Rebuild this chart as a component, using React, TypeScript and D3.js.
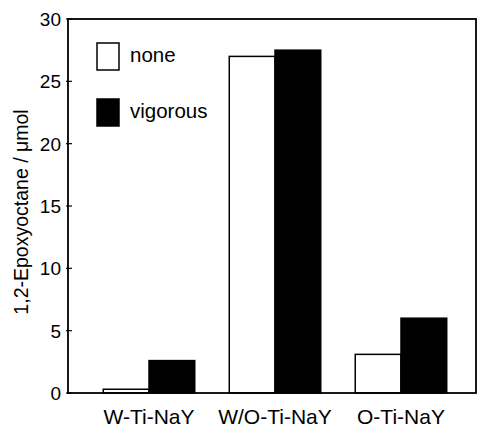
import * as d3 from 'd3'

const W = 477
const H = 425
const LEFT = 68
const RIGHT = 476
const TOP = 19
const BOTTOM = 393

const categories = ['W-Ti-NaY', 'W/O-Ti-NaY', 'O-Ti-NaY']
const series = ['none', 'vigorous']
const noneValues = [0.3, 27.0, 3.1]
const vigorousValues = [2.6, 27.5, 6.0]
const yTicks = [0, 5, 10, 15, 20, 25, 30]

const FONT = 'Liberation Sans, Arial, Helvetica, sans-serif'

const y = d3.scaleLinear().domain([0, 30]).range([BOTTOM, TOP])
const x = d3.scaleBand<string>().domain(categories).range([LEFT, 482]).paddingInner(0.274).paddingOuter(0.28)
const xs = d3.scaleBand<string>().domain(series).range([0, x.bandwidth()])

const fills: Record<string, string> = { none: '#fff', vigorous: '#000' }

export default function App() {
  const rows = categories.map((c, i) => ({ c, vals: [noneValues[i], vigorousValues[i]] }))
  return (
    <svg width={W} height={H} style={{ position: 'absolute', left: 0, top: 0, background: '#fff' }}>
      {/* bars */}
      {rows.map(r => (
        <g key={r.c} transform={`translate(${x(r.c)},0)`}>
          {series.map((s, j) => (
            <rect
              key={s}
              x={xs(s)}
              y={y(r.vals[j])}
              width={xs.bandwidth()}
              height={BOTTOM - y(r.vals[j])}
              fill={fills[s]}
              stroke="#000"
              strokeWidth={1.5}
            />
          ))}
        </g>
      ))}

      {/* frame */}
      <rect x={LEFT} y={TOP} width={RIGHT - LEFT} height={BOTTOM - TOP} fill="none" stroke="#000" strokeWidth={1.8} />

      {/* y ticks */}
      {yTicks.map(t => (
        <g key={t}>
          <line x1={LEFT - 2} x2={LEFT + 4} y1={y(t)} y2={y(t)} stroke="#000" strokeWidth={1.2} />
          <text x={61} y={y(t)} dy="0.36em" textAnchor="end" fontFamily={FONT} fontSize={19}>{t}</text>
        </g>
      ))}

      {/* x labels */}
      {categories.map(c => (
        <text key={c} x={(x(c) ?? 0) + x.bandwidth() / 2} y={424} textAnchor="middle" fontFamily={FONT} fontSize={21}>{c}</text>
      ))}

      {/* y title */}
      <text transform={`translate(28,212) rotate(-90)`} textAnchor="middle" fontFamily={FONT} fontSize={19.5}>
        1,2-Epoxyoctane / μmol
      </text>

      {/* legend */}
      {series.map((s, i) => (
        <g key={s} transform={`translate(97,${43 + i * 56})`}>
          <rect x={0} y={0} width={22} height={27} fill={fills[s]} stroke="#000" strokeWidth={1.5} />
          <text x={33} y={19} fontFamily={FONT} fontSize={20.5}>{s}</text>
        </g>
      ))}
    </svg>
  )
}
